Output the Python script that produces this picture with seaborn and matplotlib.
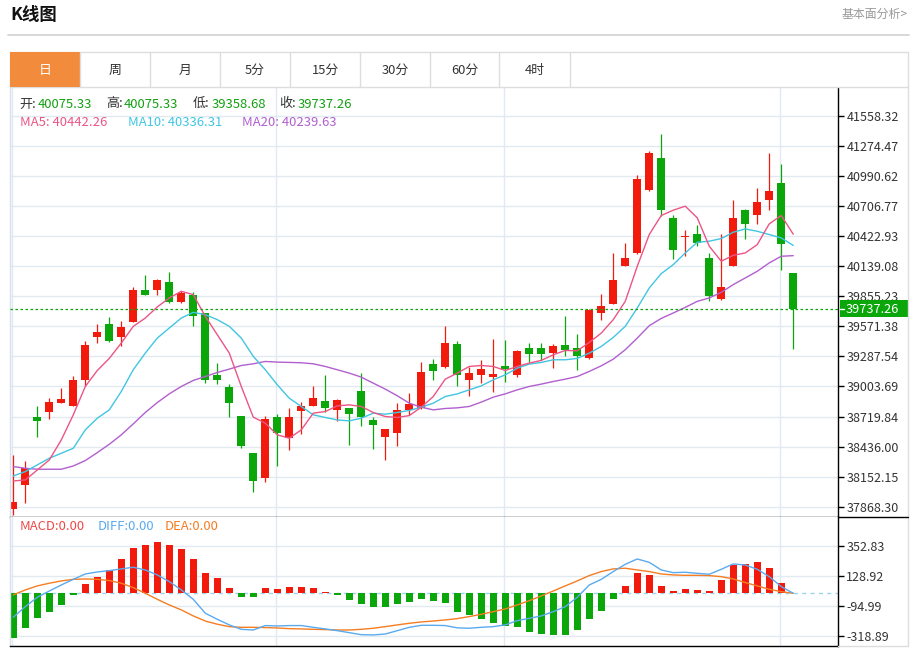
import numpy as np
import pandas as pd
import matplotlib
matplotlib.use("Agg")
import matplotlib.pyplot as plt
from matplotlib.patches import Rectangle
from matplotlib.lines import Line2D
import seaborn as sns

sns.set_theme(style="white")
plt.rcParams['font.family'] = ['Noto Sans CJK SC', 'DejaVu Sans']
plt.rcParams['axes.unicode_minus'] = False

# ---------------- data ----------------
opens = [37846, 38073, 38720, 38758, 38852, 38821, 39067, 39468, 39597, 39468,
         39613, 39919, 39912, 39994, 39805, 39871, 39701, 39114, 38999, 38723,
         38376, 38137, 38720, 38515, 38774, 38824, 38868, 38783, 38802, 38957,
         38685, 38531, 38562, 38783, 38799, 39215, 39184, 39404, 39061, 39108,
         39092, 39193, 39108, 39363, 39363, 39319, 39395, 39363, 39269, 39698,
         39786, 40139, 40265, 40858, 41164, 40597, 40414, 40448, 40218, 39830,
         40146, 40675, 40622, 40770, 40928, 40075.33]
highs = [38357, 38304, 38821, 38897, 38988, 39105, 39430, 39590, 39657, 39625,
         39944, 40060, 40019, 40086, 39909, 39900, 39701, 39225, 39029, 38723,
         38376, 38726, 38745, 38796, 38853, 39010, 39114, 38884, 38802, 39130,
         38720, 38600, 38846, 38941, 39237, 39266, 39578, 39436, 39187, 39256,
         39455, 39445, 39351, 39417, 39417, 39408, 39666, 39499, 39739, 39881,
         40265, 40360, 40997, 41231, 41385, 40628, 40480, 40530, 40265, 40448,
         40761, 40682, 40874, 41205, 41108, 40075.33]
lows = [37790, 37900, 38524, 38695, 38850, 38815, 39004, 39414, 39420, 39382,
        39609, 39865, 39865, 39792, 39789, 39572, 39035, 39029, 38711, 38420,
        38010, 38099, 38256, 38405, 38556, 38815, 38761, 38679, 38452, 38632,
        38414, 38310, 38442, 38736, 38789, 39067, 39177, 39004, 38916, 39035,
        38947, 39045, 39098, 39237, 39250, 39177, 39288, 39155, 39263, 39628,
        39783, 40139, 40259, 40855, 40612, 40212, 40234, 40328, 39814, 39824,
        40139, 40398, 40534, 40669, 40108, 39358.68]
closes = [37909, 38231, 38673, 38859, 38890, 39067, 39398, 39521, 39430, 39565,
          39915, 39871, 40010, 39805, 39884, 39666, 39067, 39067, 38852, 38442,
          38114, 38695, 38569, 38720, 38815, 38897, 38799, 38878, 38745, 38714,
          38644, 38600, 38783, 38840, 39139, 39152, 39417, 39114, 39130, 39171,
          39124, 39168, 39341, 39307, 39307, 39382, 39344, 39294, 39729, 39761,
          40007, 40218, 40959, 41205, 40669, 40291, 40423, 40360, 39855, 39944,
          40593, 40543, 40751, 40855, 40351, 39737.26]

ma5 = [38111, 38121, 38215, 38310, 38499, 38736, 39004, 39155, 39269, 39414,
       39572, 39650, 39755, 39840, 39903, 39871, 39666, 39493, 39319, 39004,
       38714, 38657, 38547, 38515, 38594, 38752, 38767, 38821, 38830, 38815,
       38758, 38720, 38711, 38729, 38808, 38909, 39073, 39130, 39193, 39202,
       39193, 39155, 39193, 39225, 39250, 39303, 39344, 39341, 39420, 39508,
       39635, 39808, 40139, 40439, 40619, 40669, 40707, 40597, 40329, 40187,
       40243, 40265, 40344, 40540, 40619, 40442.26]
ma10 = [38159, 38200, 38263, 38326, 38373, 38420, 38594, 38704, 38783, 38957,
        39162, 39319, 39461, 39556, 39650, 39704, 39682, 39635, 39572, 39461,
        39288, 39162, 39020, 38893, 38815, 38736, 38711, 38688, 38679, 38704,
        38752, 38742, 38758, 38777, 38808, 38846, 38909, 38934, 38972, 39010,
        39067, 39114, 39177, 39215, 39231, 39256, 39256, 39269, 39319, 39382,
        39467, 39572, 39745, 39934, 40070, 40155, 40265, 40366, 40376, 40401,
        40461, 40492, 40470, 40439, 40407, 40336.31]
ma20 = [38247, 38231, 38222, 38222, 38222, 38253, 38304, 38379, 38458, 38547,
        38651, 38758, 38852, 38934, 39004, 39061, 39098, 39136, 39168, 39202,
        39218, 39240, 39234, 39231, 39228, 39218, 39193, 39162, 39130, 39092,
        39035, 38979, 38916, 38846, 38808, 38783, 38796, 38802, 38815, 38856,
        38903, 38934, 38972, 39004, 39026, 39051, 39073, 39098, 39146, 39199,
        39262, 39351, 39461, 39578, 39647, 39698, 39751, 39808, 39840, 39893,
        39966, 40029, 40092, 40171, 40234, 40239.63]

macd_hist = [-336, -261, -182, -137, -87, -12, 70, 124, 174, 256,
             336, 361, 381, 358, 331, 254, 152, 114, 40, -25,
             -30, 37, 30, 45, 47, 37, 10, -12, -52, -82,
             -100, -102, -77, -62, -40, -55, -70, -137, -162, -192,
             -224, -241, -254, -286, -304, -311, -309, -274, -192, -132,
             -42, 55, 152, 139, 55, 20, 35, 25, 17, 102,
             209, 221, 234, 189, 80, 0]
diff = [-179, -100, -30, 17, 62, 104, 144, 159, 169, 182,
        194, 174, 137, 87, 25, -45, -149, -194, -236, -269,
        -274, -241, -244, -241, -241, -254, -266, -279, -294, -309,
        -311, -304, -279, -254, -239, -239, -241, -258, -261, -254,
        -249, -236, -204, -187, -169, -137, -100, -30, 62, 104,
        162, 216, 256, 231, 174, 154, 157, 149, 142, 179,
        219, 211, 179, 124, 50, 0]
dea = [-12, 25, 55, 75, 92, 104, 107, 104, 95, 75,
       42, 0, -45, -87, -124, -169, -207, -231, -249, -254,
       -254, -256, -259, -264, -266, -269, -271, -274, -274, -269,
       -261, -249, -236, -224, -214, -207, -199, -189, -174, -157,
       -137, -117, -87, -55, -20, 17, 55, 92, 132, 162,
       182, 187, 174, 162, 144, 137, 134, 134, 132, 124,
       107, 80, 55, 30, 12, 0]

price_ticks = [41558.32, 41274.47, 40990.62, 40706.77, 40422.93, 40139.08, 39855.23,
               39571.38, 39287.54, 39003.69, 38719.84, 38436.00, 38152.15, 37868.30]
macd_ticks = [352.83, 128.92, -94.99, -318.89]
month_starts = [0, 22, 41, 64]
tabs = ["日", "周", "月", "5分", "15分", "30分", "60分", "4时"]

# ---------------- style ----------------
RED = "#f21a0c"
GREEN = "#0aa60a"
C_MA5 = "#ec5585"
C_MA10 = "#40c6e2"
C_MA20 = "#b25fcf"
C_DIFF = "#5aaaf0"
C_DEA = "#f57d22"
GRID = "#e2eaf1"

W, H = 916, 648
fig = plt.figure(figsize=(W / 100, H / 100), dpi=100)
fig.patch.set_facecolor("white")


def fx(px):
    return px / W


def fy(py):
    return 1 - py / H


def ftext(x, y, s, color, size=9.4, **kw):
    fig.text(fx(x), fy(y), s, color=color, fontsize=size, va="center", ha="left", **kw)


L, R, TOP, MID, BOT = 10, 838, 87.3, 516.7, 646
ax = fig.add_axes([fx(L), fy(MID), fx(R) - fx(L), (MID - TOP) / H])
axm = fig.add_axes([fx(L), fy(BOT), fx(R) - fx(L), (BOT - MID) / H])

idx = np.arange(len(opens))
o = np.array(opens, float)
h = np.array(highs, float)
lo = np.array(lows, float)
c = np.array(closes, float)
cols = [RED if cc >= oo else GREEN for oo, cc in zip(o, c)]

XL = (-0.275, 68.73)

# ---- price panel ----
for a in (ax, axm):
    a.set_facecolor("white")
    a.set_axisbelow(True)
    for m in month_starts:
        a.axvline(m - 0.1, color=GRID, lw=1, zorder=0)

ax.vlines(idx, lo, h, colors=cols, lw=0.9, zorder=2)
body_bottom = np.minimum(o, c)
body_h = np.maximum(np.abs(c - o), 9.0)
ax.bar(idx, body_h, bottom=body_bottom, width=0.68, color=cols, linewidth=0, zorder=2)

df = pd.DataFrame({"i": idx, "MA5": ma5, "MA10": ma10, "MA20": ma20})
for col, cc in [("MA20", C_MA20), ("MA10", C_MA10), ("MA5", C_MA5)]:
    sns.lineplot(data=df, x="i", y=col, ax=ax, color=cc, lw=1.0, legend=False, zorder=3)

ax.axhline(closes[-1], color=GREEN, lw=0.9, ls=(0, (2, 2)), zorder=4)

ax.set_xlim(*XL)
ax.set_ylim(37773.7, 41829.9)
ax.set_yticks(price_ticks)
ax.set_yticklabels([f"{v:.2f}" for v in price_ticks])
ax.grid(axis="y", color=GRID, lw=1)
ax.set_xticks([])
ax.set_xlabel("")
ax.set_ylabel("")
ax.yaxis.tick_right()
ax.tick_params(axis="y", which="both", left=False, right=True, labelleft=False, labelright=True,
               length=4, width=1, color="black", pad=2, labelsize=9, labelcolor="#333333")

# current price tag
yt = ax.get_yaxis_transform()
ax_w = R - L
ax.add_patch(Rectangle(((840 - L) / ax_w, closes[-1] - 80), (909 - 840) / ax_w, 165,
                       transform=yt, facecolor=GREEN, edgecolor="none", clip_on=False, zorder=5))
ax.text((846 - L) / ax_w, closes[-1] - 5, f"{closes[-1]:.2f}", transform=yt, color="white",
        fontsize=9.2, va="center", ha="left", zorder=6, clip_on=False)
ax.add_line(Line2D([(840.5 - L) / ax_w, (844 - L) / ax_w], [closes[-1], closes[-1]],
                   transform=yt, color="white", lw=1, clip_on=False, zorder=6))

# ---- MACD panel ----
mh = np.array(macd_hist, float)
mcols = [RED if v >= 0 else GREEN for v in mh]
axm.bar(idx, mh, width=0.62, color=mcols, linewidth=0, zorder=2)
dfm = pd.DataFrame({"i": idx, "DIFF": diff, "DEA": dea})
sns.lineplot(data=dfm, x="i", y="DEA", ax=axm, color=C_DEA, lw=1.0, legend=False, zorder=3)
sns.lineplot(data=dfm, x="i", y="DIFF", ax=axm, color=C_DIFF, lw=1.0, legend=False, zorder=3)
axm.axhline(0, color="#9ed4ee", lw=1, ls=(0, (3, 3)), zorder=1)
axm.set_xlim(*XL)
axm.set_ylim(-393.5, 571.5)
axm.set_yticks(macd_ticks)
axm.set_yticklabels([f"{v:.2f}" for v in macd_ticks])
axm.grid(axis="y", color=GRID, lw=1)
axm.set_xticks([])
axm.set_xlabel("")
axm.set_ylabel("")
axm.yaxis.tick_right()
axm.tick_params(axis="y", which="both", left=False, right=True, labelleft=False, labelright=True,
                length=4, width=1, color="black", pad=2, labelsize=9, labelcolor="#333333")

for a in (ax, axm):
    a.spines["left"].set_color("#d6e2ec")
    a.spines["top"].set_visible(False)
    a.spines["right"].set_color("black")
    a.spines["bottom"].set_color("black")
    for s in ("left", "right", "bottom"):
        a.spines[s].set_linewidth(1)

# ---- figure decorations ----
ftext(10, 15, "K线图", "#111111", size=12.5, fontweight="bold")
fig.text(fx(908), fy(14), "基本面分析>", color="#9a9a9a", fontsize=8.6, va="center", ha="right")
fig.add_artist(Line2D([fx(8), fx(909)], [fy(35), fy(35)], color="#d4d4d4", lw=1.3))

# tab bar
fig.add_artist(Rectangle((fx(10), fy(TOP)), fx(908) - fx(10), (TOP - 52) / H,
                         transform=fig.transFigure, facecolor="white", edgecolor="#dddddd", lw=1))
fig.add_artist(Rectangle((fx(10), fy(TOP)), fx(79.5) - fx(10), (TOP - 52) / H,
                         transform=fig.transFigure, facecolor="#f28b3c", edgecolor="none"))
for k, t in enumerate(tabs):
    xr = 10 + 70 * (k + 1) - 0.5
    fig.add_artist(Line2D([fx(xr), fx(xr)], [fy(52), fy(TOP)], color="#dddddd", lw=1))
    fig.text(fx(10 + 35 + 70 * k), fy(70.5), t, color="white" if k == 0 else "#333333",
             fontsize=9.3, va="center", ha="center")

# outer frame lines
fig.add_artist(Line2D([fx(908), fx(908)], [fy(TOP), fy(BOT)], color="#dddddd", lw=1))
fig.add_artist(Line2D([fx(R), fx(908)], [fy(MID), fy(MID)], color="black", lw=1))
fig.add_artist(Line2D([fx(R), fx(908)], [fy(BOT), fy(BOT)], color="#dddddd", lw=1))

# legends
NUMG = "#12a012"
ftext(19, 104, "开:", "#333333")
ftext(37.5, 104, "40075.33", NUMG)
ftext(106, 104, "高:", "#333333")
ftext(124, 104, "40075.33", NUMG)
ftext(192.5, 104, "低:", "#333333")
ftext(211.5, 104, "39358.68", NUMG)
ftext(279, 104, "收:", "#333333")
ftext(297.5, 104, "39737.26", NUMG)

ftext(20, 122, "MA5: 40442.26", C_MA5)
ftext(127.5, 122, "MA10: 40336.31", C_MA10)
ftext(241.5, 122, "MA20: 40239.63", C_MA20)

ftext(20, 527, "MACD:0.00", "#f04848")
ftext(98, 527, "DIFF:0.00", C_DIFF)
ftext(165, 527, "DEA:0.00", C_DEA)

fig.savefig("out.png", dpi=100, facecolor="white")
